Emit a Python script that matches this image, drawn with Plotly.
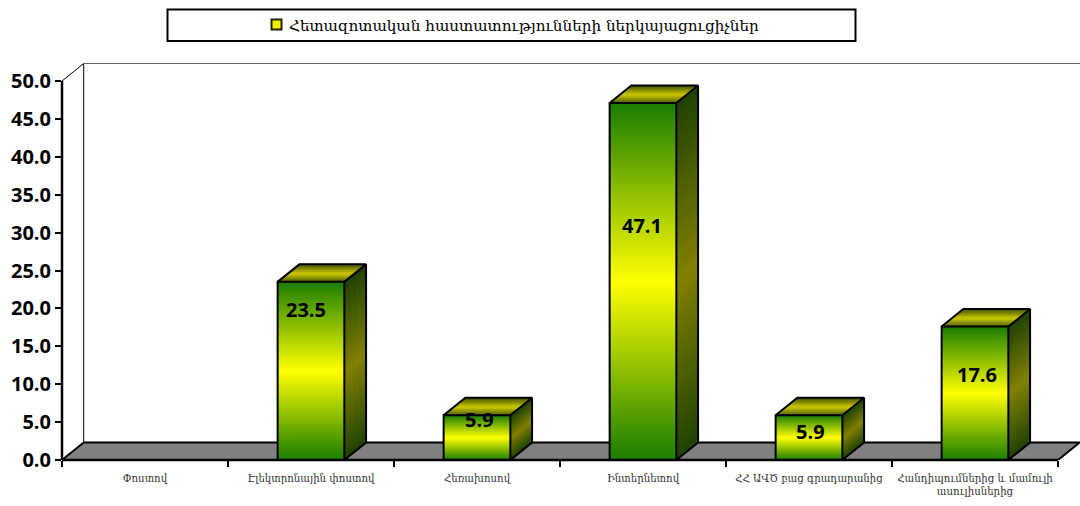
import plotly.graph_objects as go

# ---- data ----
categories = ["Փոստով", "Էլեկտրոնային փոստով", "Հեռախոսով", "Ինտերնետով",
              "ՀՀ ԱՎԾ բաց գրադարանից", "Հանդիպումներից և մամուլի<br>ասուլիսներից"]
values = [0, 23.5, 5.9, 47.1, 5.9, 17.6]
series_name = "Հետազոտական հաստատությունների ներկայացուցիչներ"
y_ticks = [0, 5, 10, 15, 20, 25, 30, 35, 40, 45, 50]
# hand-placed label anchors, as in the reference (y value, x offset px)
label_y = [None, 19.88, 5.28, 30.88, 3.73, 11.23]
label_dx = [0, -5, 2, -1, 1, 2]

# ---- geometry ----
W, H = 1080, 506
ML, MR, MT, MB = 62, 0, 60, 46
CAT_PX = 166.0
UNIT_PX = 7.58
DX = 21.7 / CAT_PX
DY = 17.5 / UNIT_PX
BAR_W = 0.402
XMAX = (W - ML) / CAT_PX
YMAX = (H - MB - MT) / UNIT_PX
N_SIDE = 90
N_TOP = 10
centers = [i + 0.5 for i in range(len(values))]


def mix(c1, c2, t):
    return "rgb(%d,%d,%d)" % tuple(round(a + (b - a) * t) for a, b in zip(c1, c2))


def grad(edge, mid, j, n):
    p = (j + 0.5) / n
    return mix(edge, mid, 1 - abs(2 * p - 1))


FRONT_EDGE, FRONT_MID = (27, 125, 0), (255, 255, 0)
SIDE_EDGE, SIDE_MID = (30, 65, 0), (128, 128, 0)
TOP_EDGE, TOP_MID = (70, 85, 0), (204, 204, 0)

fig = go.Figure()

# front faces: stacked gradient slices of each bar, about one slice per 1.5 px
bx, bbase, by, bcol = [], [], [], []
for c, v in zip(centers, values):
    if v <= 0:
        continue
    n_front = max(10, round(v * UNIT_PX / 1.5))
    for j in range(n_front):
        bx.append(c)
        bbase.append(v * j / n_front)
        by.append(v / n_front * 1.5 if j < n_front - 1 else v / n_front)
        bcol.append(grad(FRONT_EDGE, FRONT_MID, j, n_front))
fig.add_trace(go.Bar(x=bx, y=by, base=bbase, width=BAR_W, marker=dict(color=bcol, line=dict(width=0)),
                     hoverinfo="skip", showlegend=False))

# the series itself: transparent bars carrying the values
fig.add_trace(go.Bar(x=centers, y=values, width=BAR_W, name=series_name,
                     marker=dict(color="rgba(0,0,0,0)", line=dict(color="black", width=0)),
                     showlegend=False))

# side faces
for j in range(N_SIDE):
    xs, ys = [], []
    for c, v in zip(centers, values):
        if v <= 0:
            continue
        r = c + BAR_W / 2
        y0, y1 = v * j / N_SIDE, v * (j + 1) / N_SIDE
        xs += [r, r + DX, r + DX, r, r, None]
        ys += [y0, y0 + DY, y1 + DY, y1, y0, None]
    col = grad(SIDE_EDGE, SIDE_MID, j, N_SIDE)
    fig.add_trace(go.Scatter(x=xs, y=ys, mode="lines", fill="toself", fillcolor=col,
                             line=dict(color=col, width=1), hoverinfo="skip", showlegend=False))

# top faces
for j in range(N_TOP):
    xs, ys = [], []
    for c, v in zip(centers, values):
        if v <= 0:
            continue
        l, r = c - BAR_W / 2, c + BAR_W / 2
        a, b = j / N_TOP, (j + 1) / N_TOP
        xs += [l + DX * a, r + DX * a, r + DX * b, l + DX * b, l + DX * a, None]
        ys += [v + DY * a, v + DY * a, v + DY * b, v + DY * b, v + DY * a, None]
    col = grad(TOP_EDGE, TOP_MID, j, N_TOP)
    fig.add_trace(go.Scatter(x=xs, y=ys, mode="lines", fill="toself", fillcolor=col,
                             line=dict(color=col, width=1), hoverinfo="skip", showlegend=False))

# outlines of every box
ox, oy = [], []
for c, v in zip(centers, values):
    if v <= 0:
        continue
    l, r = c - BAR_W / 2, c + BAR_W / 2
    ox += [l, l, r, r, l, None, l, l + DX, r + DX, r, None, r + DX, r + DX, r, None]
    oy += [0, v, v, 0, 0, None, v, v + DY, v + DY, v, None, v + DY, DY, 0, None]
fig.add_trace(go.Scatter(x=ox, y=oy, mode="lines", line=dict(color="black", width=2),
                         hoverinfo="skip", showlegend=False))

n = len(values)
shapes = [
    # floor
    dict(type="path", xref="x", yref="y", layer="below", fillcolor="#808080",
         line=dict(color="black", width=2),
         path=f"M0,0 L{DX},{DY} L{n + DX},{DY} L{n},0 Z"),
    # back wall and left wall
    dict(type="line", xref="x", yref="y", layer="below", x0=DX, x1=DX, y0=DY, y1=50 + DY,
         line=dict(color="black", width=1)),
    dict(type="line", xref="x", yref="y", layer="below", x0=0, x1=DX, y0=50, y1=50 + DY,
         line=dict(color="black", width=1)),
    dict(type="line", xref="x", yref="y", layer="below", x0=DX, x1=XMAX, y0=50 + DY, y1=50 + DY,
         line=dict(color="#666666", width=1)),
    # front base line (unclipped)
    dict(type="line", xref="x", yref="paper", x0=0, x1=n, y0=0, y1=0, line=dict(color="black", width=2.5)),
]


def px(x):
    return (x - ML) / (W - ML - MR)


def py(y):
    return 1 - (y - MT) / (H - MT - MB)


# legend box and its swatch
shapes += [
    dict(type="rect", xref="paper", yref="paper", x0=px(167.5), x1=px(855.5), y0=py(41), y1=py(9.5),
         fillcolor="white", line=dict(color="black", width=2)),
    dict(type="rect", xref="paper", yref="paper", x0=px(271.5), x1=px(281.5), y0=py(29.5), y1=py(19.5),
         fillcolor="#f0f000", line=dict(color="#222200", width=2)),
]

annotations = [
    dict(xref="paper", yref="paper", x=px(287), y=py(26), xanchor="left", yanchor="middle",
         text=series_name, showarrow=False,
         font=dict(family="DejaVu Serif", size=15.2, color="black")),
]
for c, v, ly, dx in zip(centers, values, label_y, label_dx):
    if ly is None:
        continue
    annotations.append(dict(x=c, y=ly, xshift=dx, text=f"{v:.1f}", showarrow=False,
                            font=dict(family="Open Sans", size=20, color="black", weight=700)))

fig.update_layout(
    width=W, height=H, margin=dict(l=ML, r=MR, t=MT, b=MB, autoexpand=False),
    paper_bgcolor="white", plot_bgcolor="white", barmode="overlay", showlegend=False,
    shapes=shapes, annotations=annotations,
    xaxis=dict(range=[0, XMAX], tickvals=list(range(n + 1)), ticktext=[""] * (n + 1),
               ticks="outside", ticklen=6, tickwidth=1.5, tickcolor="black",
               showgrid=False, zeroline=False, showline=False),
    xaxis2=dict(range=[0, XMAX], overlaying="x", side="bottom", anchor="y", tickvals=centers,
                ticktext=categories, ticks="", showgrid=False, zeroline=False, showline=False,
                ticklabelstandoff=11, tickangle=0,
                tickfont=dict(family="DejaVu Serif", size=10.2, color="#333333")),
    yaxis=dict(range=[0, YMAX], tickvals=y_ticks, ticktext=[f"{t:.1f}" for t in y_ticks],
               ticks="outside", ticklen=6, tickwidth=2, tickcolor="black",
               showgrid=False, zeroline=False, showline=False,
               tickfont=dict(family="Open Sans", size=20, color="black", weight=700)),
)
# left axis spine only up to 50
fig.add_shape(type="line", xref="paper", yref="y", x0=0, x1=0, y0=0, y1=50, line=dict(color="black", width=2.5))
# invisible trace keeping the category axis alive
fig.add_trace(go.Scatter(x=centers, y=values, xaxis="x2", mode="markers", marker=dict(opacity=0),
                         hoverinfo="skip", showlegend=False))

fig.write_html("out.html", config={"displayModeBar": False},
               post_script="document.body.style.margin='0';")
